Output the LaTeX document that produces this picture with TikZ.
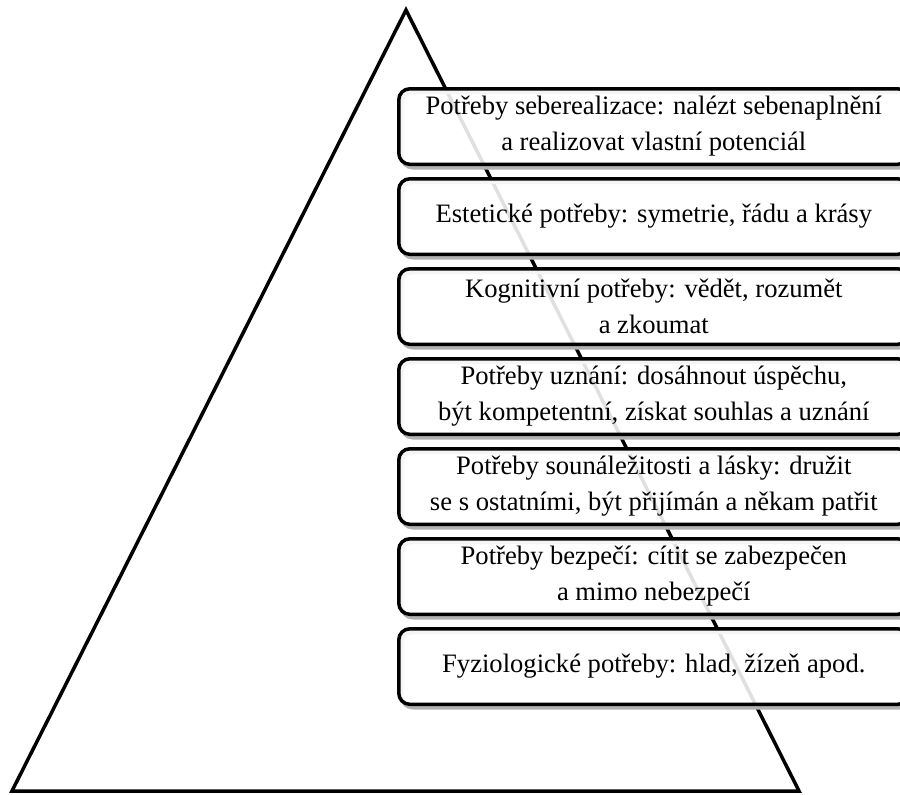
\documentclass[tikz,border=0pt]{standalone}
\usepackage{fontspec}
\setmainfont{Liberation Serif}
\begin{document}
\begin{tikzpicture}[x=1pt,y=-1pt,
  needbox/.style={draw=black, line width=3.5pt, rounded corners=11pt,
    fill=white, fill opacity=0.88, text opacity=1,
    minimum width=510pt, minimum height=75.5pt, inner sep=0pt, outer sep=0pt,
    align=center, anchor=north west,
    font=\fontsize{26.6pt}{36pt}\selectfont},
  shadowbox/.style={draw=black!30, line width=3.5pt, rounded corners=11pt,
    minimum width=510pt, minimum height=75.5pt, inner sep=0pt, anchor=north west},
  tri/.style={line width=3.5pt, line join=miter}]
\useasboundingbox (0,0) rectangle (900,795);
\coordinate (apex) at (406,10);
\coordinate (bl) at (12,791);
\coordinate (br) at (799,791);
\draw[tri] (apex) -- (br) -- (bl) -- cycle;
\foreach \i in {0,...,6}{
  \node[shadowbox] at (400,89+90*\i+1.5) {};
}
\node[needbox] (b1) at (398.8,88.8) {Potřeby seberealizace: nalézt sebenaplnění\\a realizovat vlastní potenciál};
\node[needbox] (b2) at (398.8,178.8) {Estetické potřeby: symetrie, řádu a krásy};
\node[needbox] (b3) at (398.8,268.8) {Kognitivní potřeby: vědět, rozumět\\a zkoumat};
\node[needbox] (b4) at (398.8,358.8) {Potřeby uznání: dosáhnout úspěchu,\\být kompetentní, získat souhlas a uznání};
\node[needbox] (b5) at (398.8,448.8) {Potřeby sounáležitosti a lásky: družit\\se s ostatními, být přijímán a někam patřit};
\node[needbox] (b6) at (398.8,538.8) {Potřeby bezpečí: cítit se zabezpečen\\a mimo nebezpečí};
\node[needbox] (b7) at (398.8,628.8) {Fyziologické potřeby: hlad, žízeň apod.};
\end{tikzpicture}
\end{document}
